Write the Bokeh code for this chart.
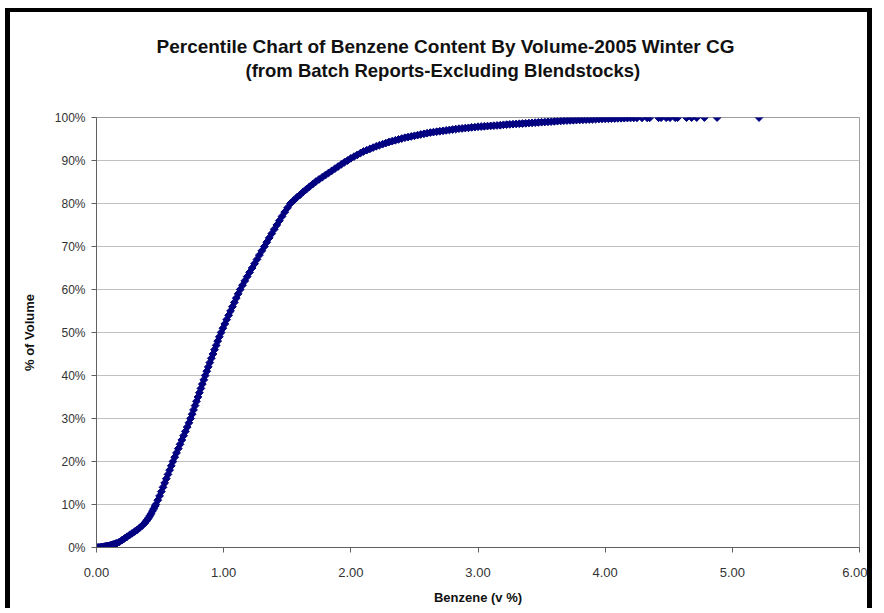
import math
from bokeh.plotting import figure
from bokeh.models import Title, NumeralTickFormatter, FixedTicker, Range1d
from bokeh.embed import file_html
from bokeh.resources import INLINE

title_lines = ["Percentile Chart of Benzene Content By Volume-2005 Winter CG",
               "(from Batch Reports-Excluding Blendstocks)"]
x_label = "Benzene (v %)"
y_label = "% of Volume"
x_ticks = [0, 1, 2, 3, 4, 5, 6]
y_ticks = [0, 10, 20, 30, 40, 50, 60, 70, 80, 90, 100]

# lowest part of the curve (benzene v%, cumulative % of volume)
low_x = [0.00, 0.01, 0.02, 0.03, 0.04, 0.05, 0.06, 0.07, 0.08, 0.09, 0.10, 0.11,
         0.12, 0.13, 0.14, 0.15, 0.16, 0.18, 0.20, 0.22, 0.24, 0.26, 0.28, 0.30,
         0.32, 0.34, 0.36, 0.38, 0.39, 0.40, 0.41, 0.42, 0.43, 0.44, 0.45, 0.46]
low_p = [0.0, 0.0, 0.05, 0.05, 0.1, 0.15, 0.2, 0.25, 0.3, 0.35, 0.4, 0.5,
         0.6, 0.7, 0.8, 0.9, 1.0, 1.3, 1.7, 2.1, 2.5, 2.9, 3.3, 3.7,
         4.1, 4.6, 5.1, 5.7, 6.1, 6.5, 6.9, 7.4, 7.9, 8.5, 9.0, 9.6]

# steep rise, 10% .. 80%
rise_x = [0.467, 0.482, 0.496, 0.510, 0.523, 0.536, 0.549, 0.562, 0.575, 0.588,
          0.601, 0.615, 0.629, 0.643, 0.657, 0.671, 0.685, 0.699, 0.713, 0.727,
          0.740, 0.752, 0.763, 0.775, 0.786, 0.798, 0.809, 0.821, 0.832, 0.844,
          0.855, 0.867, 0.879, 0.891, 0.903, 0.916, 0.928, 0.941, 0.953, 0.966,
          0.980, 0.994, 1.009, 1.024, 1.039, 1.054, 1.069, 1.084, 1.099, 1.114,
          1.130, 1.148, 1.166, 1.185, 1.204, 1.224, 1.243, 1.262, 1.281, 1.300,
          1.320, 1.339, 1.358, 1.378, 1.398, 1.418, 1.438, 1.459, 1.480, 1.502,
          1.525]
rise_p = [10, 11, 12, 13, 14, 15, 16, 17, 18, 19,
          20, 21, 22, 23, 24, 25, 26, 27, 28, 29,
          30, 31, 32, 33, 34, 35, 36, 37, 38, 39,
          40, 41, 42, 43, 44, 45, 46, 47, 48, 49,
          50, 51, 52, 53, 54, 55, 56, 57, 58, 59,
          60, 61, 62, 63, 64, 65, 66, 67, 68, 69,
          70, 71, 72, 73, 74, 75, 76, 77, 78, 79,
          80]

# flattening upper part
upper_x = [1.550, 1.575, 1.600, 1.625, 1.650, 1.675, 1.700, 1.725, 1.750, 1.775,
           1.800, 1.825, 1.850, 1.875, 1.900, 1.925, 1.950, 1.975, 2.000, 2.025,
           2.050, 2.075, 2.100, 2.125, 2.150, 2.175, 2.200, 2.225, 2.250, 2.275,
           2.300, 2.325, 2.350, 2.375, 2.400, 2.425, 2.450, 2.475, 2.500, 2.525,
           2.550, 2.575, 2.600, 2.625, 2.650, 2.675, 2.700, 2.725, 2.750, 2.775,
           2.800, 2.825, 2.850, 2.875, 2.900, 2.925, 2.950, 2.975, 3.000, 3.025,
           3.050, 3.075, 3.100, 3.125, 3.150, 3.175, 3.200, 3.225, 3.250, 3.275,
           3.300, 3.325, 3.350, 3.375, 3.400, 3.425, 3.450, 3.475, 3.500, 3.525,
           3.550, 3.575, 3.600, 3.625, 3.650, 3.675, 3.700, 3.725, 3.750, 3.775,
           3.800, 3.825, 3.850, 3.875, 3.900, 3.925, 3.950, 3.975, 4.000, 4.025,
           4.050, 4.075, 4.100, 4.125, 4.150, 4.175, 4.200, 4.225, 4.250]
upper_p = [80.7, 81.4, 82.0, 82.7, 83.3, 83.9, 84.5, 85.1, 85.6, 86.1,
           86.6, 87.1, 87.6, 88.1, 88.6, 89.1, 89.6, 90.0, 90.5, 90.9,
           91.3, 91.7, 92.1, 92.4, 92.7, 93.0, 93.3, 93.55, 93.8, 94.05,
           94.3, 94.5, 94.7, 94.9, 95.1, 95.3, 95.45, 95.6, 95.75, 95.9,
           96.05, 96.2, 96.35, 96.5, 96.6, 96.7, 96.8, 96.9, 97.0, 97.1,
           97.2, 97.3, 97.4, 97.45, 97.55, 97.6, 97.7, 97.75, 97.85, 97.9,
           97.95, 98.0, 98.05, 98.1, 98.15, 98.2, 98.3, 98.35, 98.4, 98.45,
           98.5, 98.55, 98.6, 98.65, 98.7, 98.75, 98.8, 98.85, 98.9, 98.95,
           99.0, 99.05, 99.1, 99.15, 99.2, 99.25, 99.3, 99.33, 99.36, 99.4,
           99.43, 99.46, 99.5, 99.53, 99.56, 99.6, 99.63, 99.66, 99.7, 99.72,
           99.75, 99.77, 99.8, 99.82, 99.85, 99.87, 99.89, 99.9, 99.91]

# sparse high-benzene tail
tail_x = [4.29, 4.33, 4.35, 4.42, 4.44, 4.48, 4.51, 4.55, 4.57, 4.64, 4.68, 4.72,
          4.78, 4.88, 5.21]
tail_p = [99.92, 99.93, 99.93, 99.94, 99.95, 99.95, 99.96, 99.96, 99.97, 99.97,
          99.98, 99.98, 99.99, 99.99, 100.0]

benzene = low_x + rise_x + upper_x + tail_x
pct_volume = low_p + rise_p + upper_p + tail_p
assert len(benzene) == len(pct_volume)

FONT = "Liberation Sans"
W, H = 867, 600

p = figure(width=W, height=H, output_backend="svg", toolbar_location=None,
           x_range=Range1d(0, 6), y_range=Range1d(0, 100),
           min_border_left=86, min_border_right=18, min_border_top=105,
           min_border_bottom=65, title=None)
p.styles = {"margin-left": "5px", "margin-top": "8px",
            "border-top": "4px solid black", "border-left": "5px solid black",
            "border-right": "5px solid black"}
p.background_fill_color = "white"
p.border_fill_color = "white"
p.outline_line_color = "#a0a0a0"
p.outline_line_width = 1

p.scatter(benzene, pct_volume, marker="square", angle=math.pi / 4, size=5.5,
          fill_color="#000080", line_color="#000080")

p.xgrid.grid_line_color = None
p.ygrid.grid_line_color = "#c0c0c0"
p.ygrid.ticker = FixedTicker(ticks=y_ticks)

p.xaxis.ticker = FixedTicker(ticks=x_ticks)
p.yaxis.ticker = FixedTicker(ticks=y_ticks)
p.xaxis.formatter = NumeralTickFormatter(format="0.00")
p.yaxis.major_label_overrides = {t: f"{t}%" for t in y_ticks}

for ax in (p.xaxis[0], p.yaxis[0]):
    ax.axis_line_color = "#606060"
    ax.major_tick_line_color = "#606060"
    ax.minor_tick_line_color = None
    ax.major_tick_in = 0
    ax.major_tick_out = 5
    ax.major_label_text_font = FONT
    ax.major_label_text_color = "#333333"
    ax.axis_label_text_font = FONT
    ax.axis_label_text_font_size = "13px"
    ax.axis_label_text_font_style = "bold"
    ax.axis_label_text_color = "#111111"

p.xaxis.major_label_text_font_size = "13px"
p.yaxis.major_label_text_font_size = "12px"
p.xaxis.axis_label = x_label
p.yaxis.axis_label = y_label
p.xaxis.major_label_standoff = 15
p.yaxis.major_label_standoff = 6
p.xaxis.axis_label_standoff = 10
p.yaxis.axis_label_standoff = 15

# title panels, stacked upward from the frame: spacer, line 2, line 1
p.add_layout(Title(text=" ", text_font_size="10px", standoff=23), "above")
p.add_layout(Title(text=title_lines[1], align="left", offset=149, standoff=2,
                   text_font=FONT, text_font_size="18.5px", text_font_style="bold",
                   text_color="#111111"), "above")
p.add_layout(Title(text=title_lines[0], align="left", offset=60, standoff=0,
                   text_font=FONT, text_font_size="19px", text_font_style="bold",
                   text_color="#111111"), "above")

open("out.html", "w").write(file_html(p, INLINE))
